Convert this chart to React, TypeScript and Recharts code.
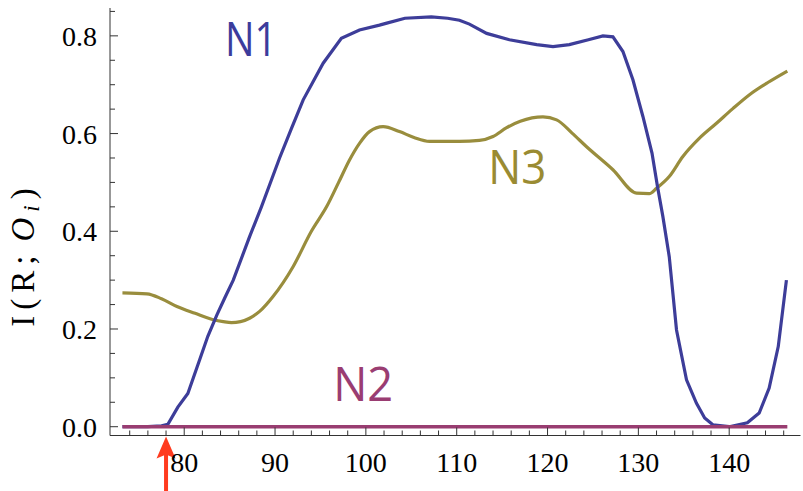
import React from "react";
import { LineChart, Line, XAxis, YAxis, ReferenceDot } from "recharts";

// ---- data ----
const n1X = [73.2, 76, 77.5, 78.2, 79.3, 80.4, 81.7, 82.6, 83.6, 84.5, 85.4, 87.2, 88.5, 89.6, 90.5, 91.8, 93.1, 95.3, 97.3, 99.3, 101.5, 102.3, 104.3, 107.2, 109, 110.3, 111.4, 113.3, 115.8, 118.8, 120.6, 122.4, 124.5, 126.1, 127.2, 128.3, 129.4, 130.5, 131.5, 132.1, 132.7, 133.4, 134.2, 135.3, 136.4, 137.3, 138.2, 140, 142, 143.3, 144.4, 145.4, 146.3];
const n1Y = [0, 0, 0.002, 0.005, 0.04, 0.068, 0.137, 0.185, 0.229, 0.265, 0.3, 0.389, 0.45, 0.505, 0.55, 0.61, 0.669, 0.744, 0.795, 0.812, 0.822, 0.826, 0.836, 0.839, 0.836, 0.832, 0.824, 0.805, 0.792, 0.782, 0.778, 0.782, 0.792, 0.8, 0.798, 0.768, 0.71, 0.635, 0.56, 0.492, 0.43, 0.348, 0.198, 0.096, 0.048, 0.018, 0.004, 0, 0.008, 0.028, 0.079, 0.164, 0.3];

const n3X = [73.2, 75.9, 77.5, 79.2, 81.2, 83.2, 84.3, 85.2, 86.2, 87.2, 88.3, 89.8, 92, 94, 95.7, 97, 98.2, 99.3, 100.4, 101.9, 103.7, 105.3, 107, 110.3, 112.5, 114, 115.5, 117, 119.5, 121, 122.7, 124.3, 127.2, 129.8, 131.2, 132, 133.4, 134.9, 136.7, 138.6, 140.4, 142.2, 144.3, 146.4];
const n3Y = [0.274, 0.272, 0.262, 0.246, 0.232, 0.219, 0.215, 0.213, 0.215, 0.222, 0.236, 0.267, 0.328, 0.4, 0.451, 0.5, 0.546, 0.58, 0.604, 0.614, 0.604, 0.592, 0.584, 0.584, 0.586, 0.594, 0.612, 0.625, 0.634, 0.628, 0.601, 0.573, 0.526, 0.478, 0.477, 0.488, 0.512, 0.553, 0.59, 0.621, 0.651, 0.679, 0.705, 0.728];

const n2X = [73.2, 146.4];
const n2Y = [0, 0];

const xTicks = [74, 76, 78, 80, 82, 84, 86, 88, 90, 92, 94, 96, 98, 100, 102, 104, 106, 108, 110, 112, 114, 116, 118, 120, 122, 124, 126, 128, 130, 132, 134, 136, 138, 140, 142, 144, 146];
const xMajorTicks = [80, 90, 100, 110, 120, 130, 140];
const yTicks = [0, 0.05, 0.1, 0.15, 0.2, 0.25, 0.3, 0.35, 0.4, 0.45, 0.5, 0.55, 0.6, 0.65, 0.7, 0.75, 0.8, 0.85];
const yMajorTicks = [0, 0.2, 0.4, 0.6, 0.8];

const xDomain = [71.83, 147.85];
const yDomain = [-0.018, 0.857];

const seriesNames = ["N1", "N2", "N3"];
const labelX = [87.34, 99.7, 116.66];
const labelY = [0.796, 0.089, 0.534];
const arrowX = 78;

// ---- styles ----
const COLORS = { N1: "#3d3d99", N2: "#993d71", N3: "#998d3d" };
const LABEL_COLORS = { N1: "#3c3c9c", N2: "#9a3d72", N3: "#9a8b32" };
const LABEL_WIDTHS = { N1: 52, N2: 60, N3: 58 };
const FRAME = "#333333";
const SERIF = "Liberation Serif";

const zip = (xs: number[], ys: number[]) => xs.map((x, i) => ({ x, y: ys[i] }));
const n1Data = zip(n1X, n1Y);
const n2Data = zip(n2X, n2Y);
const n3Data = zip(n3X, n3Y);

const isMajorY = (v: number) => yMajorTicks.some((m) => Math.abs(m - v) < 1e-9);

const XTickBottom = (props: any) => {
  const { x, y, payload } = props;
  const v = payload.value;
  const major = xMajorTicks.includes(v);
  return (
    <g>
      <line x1={x} x2={x} y1={y} y2={y - (major ? 8 : 5)} stroke={FRAME} strokeWidth={1} />
      {major && (
        <text x={x} y={y + 36} textAnchor="middle" style={{ fontFamily: SERIF, fontSize: 28 }} fill="#000">
          {v}
        </text>
      )}
    </g>
  );
};

const XTickTop = (props: any) => {
  const { x, y, payload } = props;
  const major = xMajorTicks.includes(payload.value);
  return <line x1={x} x2={x} y1={y} y2={y + (major ? 8 : 5)} stroke={FRAME} strokeWidth={1} />;
};

const YTickLeft = (props: any) => {
  const { x, y, payload } = props;
  const v = payload.value;
  const major = isMajorY(v);
  return (
    <g>
      <line x1={x} x2={x + (major ? 8 : 5)} y1={y} y2={y} stroke={FRAME} strokeWidth={1} />
      {major && (
        <text x={x - 13} y={y + 10} textAnchor="end" style={{ fontFamily: SERIF, fontSize: 28 }} fill="#000">
          {v.toFixed(1)}
        </text>
      )}
    </g>
  );
};

const YTickRight = (props: any) => {
  const { x, y, payload } = props;
  const major = isMajorY(payload.value);
  return <line x1={x} x2={x - (major ? 8 : 5)} y1={y} y2={y} stroke={FRAME} strokeWidth={1} />;
};

const makeLabelShape = (name: string) => (props: any) => (
  <text
    x={props.cx}
    y={props.cy}
    textAnchor="middle"
    dominantBaseline="central"
    style={{ fontFamily: "Open Sans", fontSize: 47 }}
    fill={(LABEL_COLORS as any)[name]}
    textLength={(LABEL_WIDTHS as any)[name]}
    lengthAdjust="spacingAndGlyphs"
  >
    {name}
  </text>
);

const ArrowShape = (props: any) => {
  const { cx, cy } = props;
  const tip = cy + 1;
  return (
    <g>
      <rect x={cx - 2} y={tip + 14} width={4} height={60} fill="#ff3b1f" />
      <path d={`M ${cx} ${tip} L ${cx + 9.5} ${tip + 22} L ${cx} ${tip + 18} L ${cx - 9.5} ${tip + 22} Z`} fill="#ff3b1f" />
    </g>
  );
};

export default function App() {
  return (
    <div style={{ position: "absolute", left: 0, top: 0, background: "#fff" }}>
      <LineChart width={803} height={491} margin={{ top: 8, right: 2.5, bottom: 0, left: 0 }}>
        <XAxis
          xAxisId="bottom"
          orientation="bottom"
          type="number"
          dataKey="x"
          domain={xDomain}
          allowDataOverflow
          ticks={xTicks}
          interval={0}
          height={55.5}
          tickSize={0}
          tickMargin={0}
          tickLine={false}
          tick={<XTickBottom />}
          axisLine={{ stroke: FRAME, strokeWidth: 1 }}
        />
        <XAxis
          xAxisId="top"
          orientation="top"
          type="number"
          dataKey="x"
          domain={xDomain}
          allowDataOverflow
          ticks={xTicks}
          interval={0}
          height={0}
          tickSize={0}
          tickMargin={0}
          tickLine={false}
          tick={<XTickTop />}
          axisLine={{ stroke: FRAME, strokeWidth: 1 }}
        />
        <YAxis
          yAxisId="left"
          orientation="left"
          type="number"
          domain={yDomain}
          allowDataOverflow
          ticks={yTicks}
          interval={0}
          width={110}
          tickSize={0}
          tickMargin={0}
          tickLine={false}
          tick={<YTickLeft />}
          axisLine={{ stroke: FRAME, strokeWidth: 1 }}
          label={{
            content: () => (
              <text
                transform="translate(33.5, 254.5) rotate(-90)"
                textAnchor="middle"
                style={{ fontFamily: SERIF, fontSize: 33, letterSpacing: 6 }}
                fill="#000"
              >
                I(R;
                <tspan fontStyle="italic" dx={8}>O</tspan>
                <tspan fontStyle="italic" fontSize={23} dy={5}>i</tspan>
                <tspan dy={-5}>)</tspan>
              </text>
            ),
          }}
        />
        <YAxis
          yAxisId="right"
          orientation="right"
          type="number"
          domain={yDomain}
          allowDataOverflow
          ticks={yTicks}
          interval={0}
          width={0}
          tickSize={0}
          tickMargin={0}
          tickLine={false}
          tick={<YTickRight />}
          axisLine={{ stroke: FRAME, strokeWidth: 1 }}
        />
        <Line xAxisId="bottom" yAxisId="left" data={n3Data} dataKey="y" type="monotone" stroke={COLORS.N3} strokeWidth={3.2} dot={false} isAnimationActive={false} />
        <Line xAxisId="bottom" yAxisId="left" data={n1Data} dataKey="y" type="linear" stroke={COLORS.N1} strokeWidth={3.2} dot={false} isAnimationActive={false} />
        <Line xAxisId="bottom" yAxisId="left" data={n2Data} dataKey="y" type="linear" stroke={COLORS.N2} strokeWidth={3.4} dot={false} isAnimationActive={false} />
        {seriesNames.map((name, i) => (
          <ReferenceDot
            key={name}
            xAxisId="bottom"
            yAxisId="left"
            x={labelX[i]}
            y={labelY[i]}
            r={0}
            ifOverflow="visible"
            shape={makeLabelShape(name)}
          />
        ))}
        <ReferenceDot xAxisId="bottom" yAxisId="left" x={arrowX} y={yDomain[0]} r={0} ifOverflow="visible" shape={<ArrowShape />} />
      </LineChart>
    </div>
  );
}
